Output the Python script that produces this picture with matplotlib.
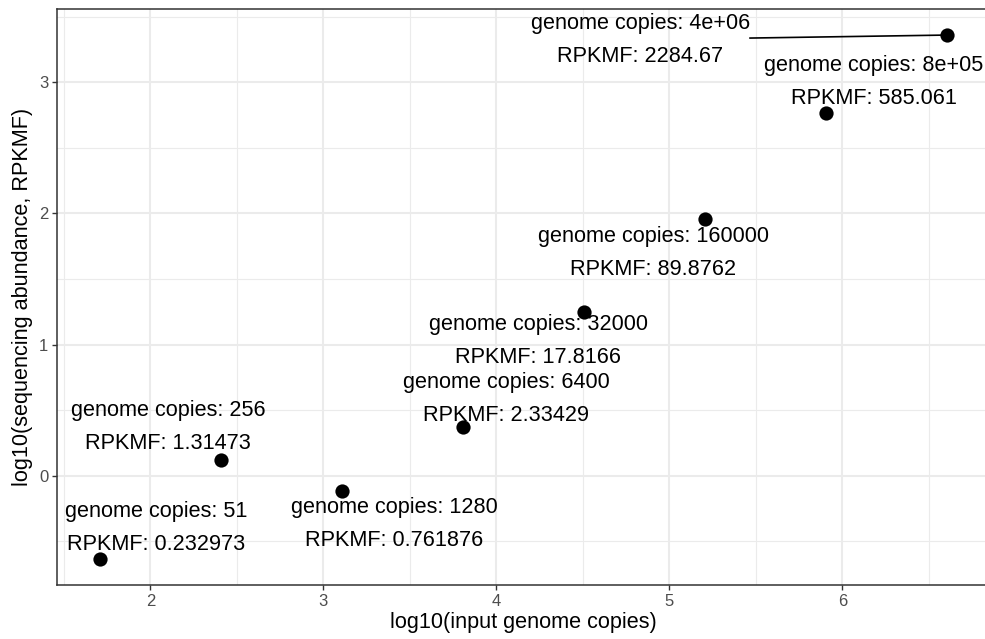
import numpy as np
import matplotlib
matplotlib.use("Agg")
import matplotlib.pyplot as plt

genome_copies = [51, 256, 1280, 6400, 32000, 160000, 8e5, 4e6]
copies_txt = ["51", "256", "1280", "6400", "32000", "160000", "8e+05", "4e+06"]
rpkmf = [0.232973, 1.31473, 0.761876, 2.33429, 17.8166, 89.8762, 585.061, 2284.67]
rpkmf_txt = ["0.232973", "1.31473", "0.761876", "2.33429", "17.8166", "89.8762", "585.061", "2284.67"]

# position des etiquettes (style ggrepel), en coordonnees des donnees
label_x = [2.033, 2.102, 3.409, 4.056, 4.241, 4.906, 6.183, 4.831]
label_y = [-0.399, 0.371, -0.368, 0.585, 1.027, 1.697, 3.001, 3.321]

plt.rcParams['font.family'] = ['Liberation Sans', 'DejaVu Sans']

x = np.log10(genome_copies)
y = np.log10(rpkmf)

fig = plt.figure(figsize=(9.85, 6.39), dpi=100)
ax = fig.add_axes([0.0583, 0.0847, 0.9457, 0.9014])

xmin, xmax = x.min(), x.max()
ymin, ymax = y.min(), y.max()
dx = 0.05 * (xmax - xmin)
dy = 0.05 * (ymax - ymin)
ax.set_xlim(xmin - dx, xmax + dx)
ax.set_ylim(ymin - dy, ymax + dy)

ax.set_xticks([2, 3, 4, 5, 6])
ax.set_yticks([0, 1, 2, 3])
ax.set_xticks([1.5, 2.5, 3.5, 4.5, 5.5, 6.5], minor=True)
ax.set_yticks([-0.5, 0.5, 1.5, 2.5, 3.5], minor=True)
ax.grid(which='major', color='#EBEBEB', linewidth=1.5, zorder=0)
ax.grid(which='minor', color='#EBEBEB', linewidth=0.8, zorder=0)
ax.set_axisbelow(True)

for s in ax.spines.values():
    s.set_color('#333333')
    s.set_linewidth(1.1)
ax.tick_params(which='major', color='#333333', length=3.5, width=1.0,
               labelsize=12, labelcolor='#4D4D4D', pad=3)
ax.tick_params(which='minor', length=0)

# segment de la plus grande valeur
i_last = len(x) - 1
ax.plot([5.466, x[i_last]], [3.336, y[i_last]], color='black', linewidth=1.2, zorder=2)

ax.scatter(x, y, s=105, color='black', zorder=3, linewidths=0)

for i in range(len(x)):
    txt = "genome copies: " + copies_txt[i] + "\nRPKMF: " + rpkmf_txt[i]
    ax.text(label_x[i], label_y[i], txt, ha='center', va='center',
            multialignment='center', fontsize=15.6, linespacing=1.75, zorder=4)

ax.set_xlabel('log10(input genome copies)', fontsize=15.6, labelpad=2)
ax.set_ylabel('log10(sequencing abundance, RPKMF)', fontsize=15.6, labelpad=4)

fig.savefig('out.png', dpi=100)
